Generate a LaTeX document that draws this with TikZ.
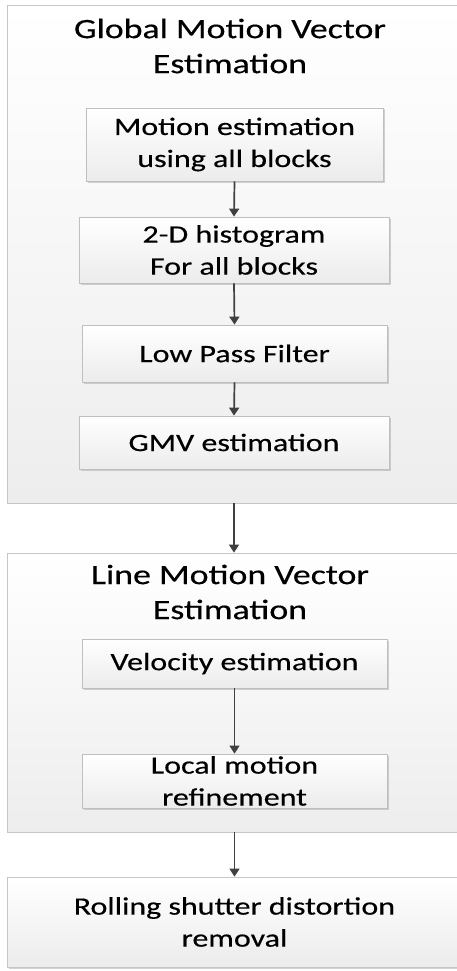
\documentclass[tikz,border=0pt]{standalone}
\usepackage{fontspec}
\setmainfont[FakeStretch=1.28,FakeBold=0.4]{Carlito}
\usetikzlibrary{shadows,arrows.meta}
\begin{document}
\begin{tikzpicture}[x=1pt,y=-1pt,
  outerbox/.style={draw=gray!45,line width=0.8pt,top color=white,bottom color=gray!14,
    inner sep=0pt,anchor=center,
    drop shadow={shadow xshift=1.2pt,shadow yshift=-1.2pt,fill=gray!60,opacity=0.5}},
  innerbox/.style={draw=gray!50,line width=0.8pt,top color=white,bottom color=gray!15,
    inner sep=0pt,align=center,font=\fontsize{25}{32}\selectfont,
    drop shadow={shadow xshift=1.5pt,shadow yshift=-1.5pt,fill=gray!70,opacity=0.5}},
  titletext/.style={align=center,inner sep=0pt,font=\fontsize{28}{35}\selectfont},
  flow/.style={draw=black!75,line width=1.7pt,-{Triangle[length=8pt,width=10pt]}}
]
\useasboundingbox (0,0) rectangle (457,971);
\clip (0,0) rectangle (457,971);
\fill[white] (0,0) rectangle (457,971);
% outer boxes
\node[outerbox,minimum width=455pt,minimum height=498pt] (g) at (234.5,254) {};
\node[outerbox,minimum width=455pt,minimum height=279pt] (l) at (234.5,692.5) {};
\node[innerbox,minimum width=455pt,minimum height=90pt,draw=gray!45] (r) at (234.5,922)
  {Rolling shutter distortion\\removal};
% titles
\node[titletext] (gt) at (230,46) {Global Motion Vector\\Estimation};
\node[titletext] (lt) at (230,592) {Line Motion Vector\\Estimation};
% inner boxes
\node[innerbox,minimum width=297pt,minimum height=73pt] (m1) at (234.5,144.5)
  {Motion estimation\\using all blocks};
\node[innerbox,minimum width=310pt,minimum height=66pt] (m2) at (234,250)
  {2-D histogram\\For all blocks};
\node[innerbox,minimum width=305pt,minimum height=57pt] (m3) at (234.5,353.5)
  {Low Pass Filter};
\node[innerbox,minimum width=310pt,minimum height=53pt] (m4) at (234,442.5)
  {GMV estimation};
\node[innerbox,minimum width=305pt,minimum height=49pt] (v1) at (234.5,663.5)
  {Velocity estimation};
\node[innerbox,minimum width=305pt,minimum height=54pt] (v2) at (234.5,781)
  {Local motion\\refinement};
% arrows
\draw[flow] (m1.south) -- (m2.north);
\draw[flow] (m2.south) -- (m3.north);
\draw[flow] (m3.south) -- (m4.north);
\draw[flow] (g.south -| m4.south) -- (l.north -| m4.south);
\draw[flow] (v1.south) -- (v2.north);
\draw[flow] (l.south -| v2.south) -- (r.north -| v2.south);
\end{tikzpicture}
\end{document}
